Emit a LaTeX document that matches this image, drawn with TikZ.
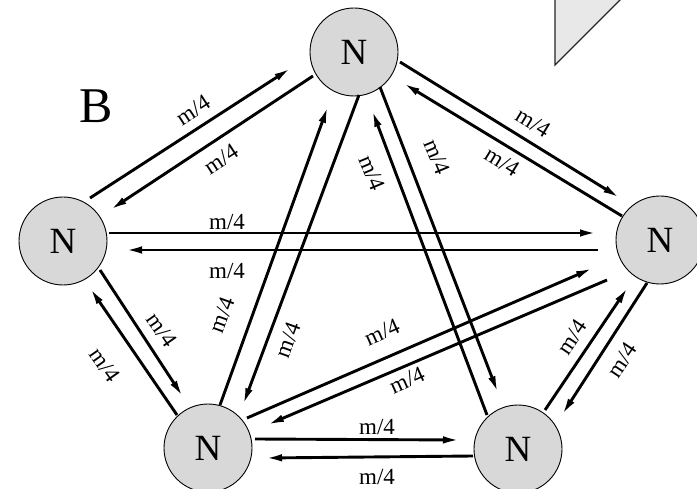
\documentclass[tikz,border=0pt]{standalone}
\usepackage{fontspec}
\setmainfont{Liberation Serif}
\usetikzlibrary{arrows.meta,calc}
\definecolor{nodefill}{RGB}{216,216,216}
\definecolor{shapefill}{RGB}{232,232,232}
\tikzset{
  nd/.style={circle, draw=black, line width=0.9pt, fill=nodefill, minimum size=88pt, inner sep=0pt, font=\fontsize{37}{37}\selectfont},
  link/.style={line width=2.9pt, -{Latex[length=17pt,width=7.5pt]}},
  lbl/.style={inner sep=0pt, font=\fontsize{23}{23}\selectfont}
}
\begin{document}
\begin{tikzpicture}[x=1pt,y=-1pt]
\clip (0,0) rectangle (697,489);
\fill[white] (0,0) rectangle (697,489);
% corner shape
\filldraw[fill=shapefill, draw=black!85, line width=1.3pt] (555,-5) -- (555,65) -- (626,-6) -- cycle;
% nodes
\node[nd] (T) at (354,52) {N};
\node[nd] (L) at (63,241) {N};
\node[nd] (R) at (660,240) {N};
\node[nd] (BL) at (208,448) {N};
\node[nd] (BR) at (518,449) {N};
\node[inner sep=0pt, font=\fontsize{50}{50}\selectfont] (B) at (96,106) {B};
% L - T
\draw[link] ($(L)+(27,-43)$) -- ($(T)+(-63,16)$);
\draw[link] ($(T)+(-41,24)$) -- ($(L)+(47,-31)$);
% L - R
\draw[link] ($(L)+(46,-8)$) -- ($(R)+(-63,-7)$);
\draw[link] ($(R)+(-62,10)$) -- ($(L)+(62,9)$);
% L - BL
\draw[link] ($(BL)+(-31,-33)$) -- ($(L)+(27,47)$);
\draw[link] ($(L)+(37,29)$) -- ($(BL)+(-25,-51)$);
% T - BL
\draw[link] ($(BL)+(12,-43)$) -- ($(T)+(-26,54)$);
\draw[link] ($(T)+(5,43)$) -- ($(BL)+(35,-43)$);
% T - BR
\draw[link] ($(T)+(26,35)$) -- ($(BR)+(-20,-56)$);
\draw[link] ($(BR)+(-31,-34)$) -- ($(T)+(18,58)$);
% T - R
\draw[link] ($(T)+(46,10)$) -- ($(R)+(-40,-42)$);
\draw[link] ($(R)+(-38,-24)$) -- ($(T)+(49,31)$);
% R - BR
\draw[link] ($(BR)+(27,-39)$) -- ($(R)+(-32,47)$);
\draw[link] ($(R)+(-13,43)$) -- ($(BR)+(44,-34)$);
% R - BL
\draw[link] ($(BL)+(39,-30)$) -- ($(R)+(-67,28)$);
\draw[link] ($(R)+(-53,40)$) -- ($(BL)+(59,-23)$);
% BL - BR
\draw[link] ($(BL)+(47,-9)$) -- ($(BR)+(-58,-9)$);
\draw[link] ($(BR)+(-45,7)$) -- ($(BL)+(57,10)$);
% labels
\node[lbl, rotate=33] (la1) at (193,110) {m/4};
\node[lbl, rotate=33] (la2) at (221,159) {m/4};
\node[lbl] (lb1) at (227,222) {m/4};
\node[lbl] (lb2) at (227,271) {m/4};
\node[lbl, rotate=-55] (lc1) at (162,330) {m/4};
\node[lbl, rotate=-55] (lc2) at (105,365) {m/4};
\node[lbl, rotate=70] (ld1) at (222,315) {m/4};
\node[lbl, rotate=70] (ld2) at (288,340) {m/4};
\node[lbl, rotate=-67.5] (le1) at (372,173) {m/4};
\node[lbl, rotate=-67.5] (le2) at (437,157) {m/4};
\node[lbl, rotate=-31.6] (lf1) at (533,123) {m/4};
\node[lbl, rotate=-31.6] (lf2) at (502,162) {m/4};
\node[lbl, rotate=56] (lg1) at (572,337) {m/4};
\node[lbl, rotate=56] (lg2) at (622,360) {m/4};
\node[lbl, rotate=24] (lh1) at (382,332) {m/4};
\node[lbl, rotate=24] (lh2) at (407,380) {m/4};
\node[lbl] (li1) at (377,427) {m/4};
\node[lbl] (li2) at (377,477) {m/4};
\end{tikzpicture}
\end{document}
